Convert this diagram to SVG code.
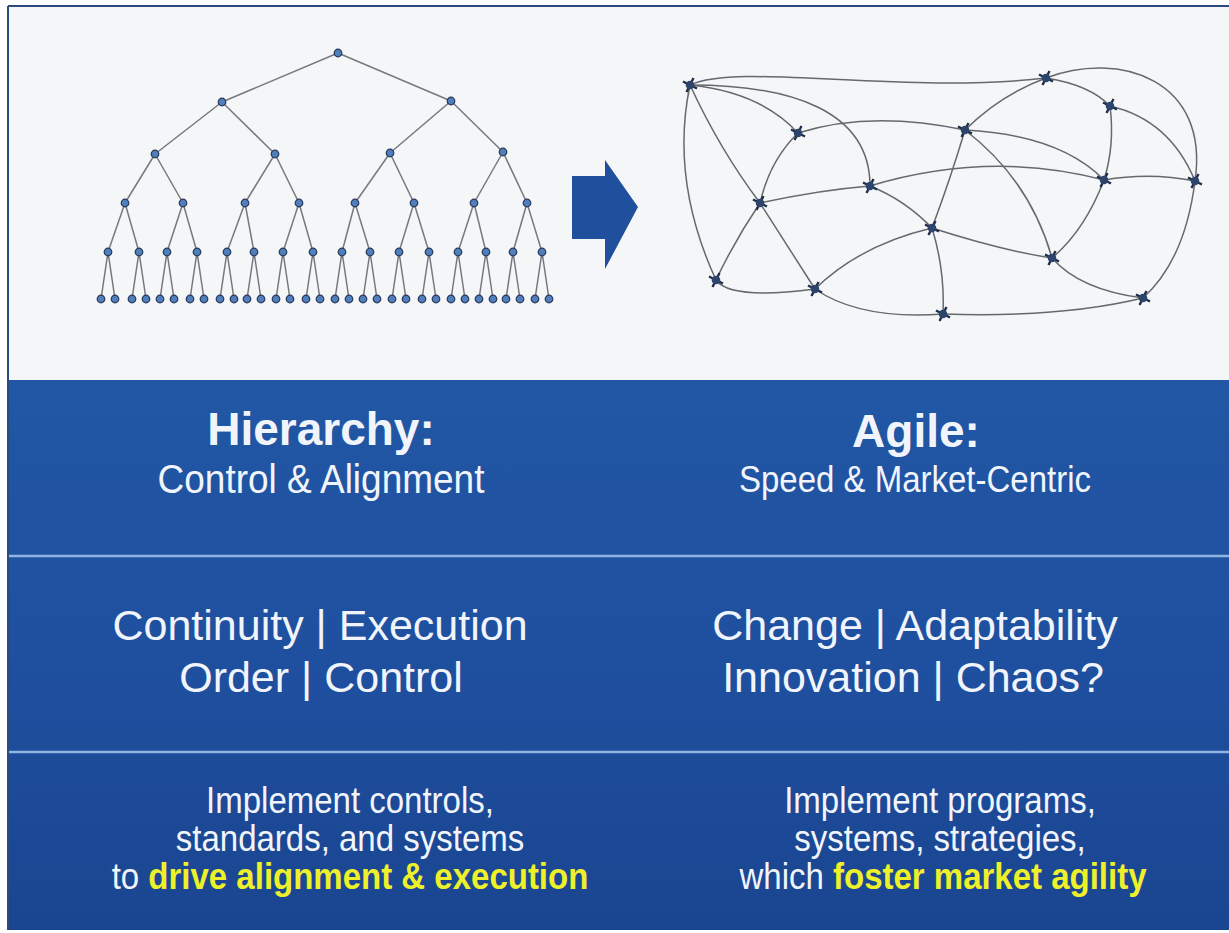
<svg xmlns="http://www.w3.org/2000/svg" xmlns:xlink="http://www.w3.org/1999/xlink" width="1229" height="933" viewBox="0 0 1229 933">
<defs>
<style>
.tedge{stroke:#75797f;stroke-width:1.5;fill:none}
.nedge{stroke:#65696e;stroke-width:1.5;fill:none}
.w{fill:#f1f5fb;font-family:"Liberation Sans",Arial,Helvetica,sans-serif;text-anchor:middle}
.b{font-weight:bold}
.y{fill:#eef02a;font-weight:bold}
.div{stroke:#8fb5e3;stroke-width:2.5}
</style>
<linearGradient id="panelGrad" x1="0" y1="0" x2="0" y2="1">
<stop offset="0" stop-color="#2157a4"/>
<stop offset="0.5" stop-color="#1f50a0"/>
<stop offset="1" stop-color="#1a4590"/>
</linearGradient>
<g id="tn"><circle r="3.8" fill="#4f7fbd" stroke="#28395a" stroke-width="1.2"/></g>
<g id="nn"><path d="M-7,-3.5 L7,3.5 M-3.5,7 L3.5,-7" stroke="#1f2e4a" stroke-width="2.4"/><circle r="4.3" fill="#2d446d"/></g>
</defs>

<rect x="0" y="0" width="1229" height="933" fill="#ffffff"/>
<rect x="8" y="6" width="1221" height="374" fill="#f5f6f8"/>
<line x1="8" y1="6" x2="1229" y2="6" stroke="#2b4a7d" stroke-width="2"/>
<line x1="8" y1="6" x2="8" y2="930" stroke="#2b4a7d" stroke-width="2"/>

<g id="panel">
<rect x="9" y="380" width="1220" height="550" fill="url(#panelGrad)"/>
<line class="div" x1="9" y1="556" x2="1229" y2="556"/>
<line class="div" x1="9" y1="752" x2="1229" y2="752"/>
</g>

<g id="arrow">
<polygon points="572,176 605,176 605,160 638,207 605,269 605,239 572,239" fill="#1f4f9d"/>
</g>

<g id="hierarchy-tree">
<g id="tree-connectors">
<line class="tedge" x1="338" y1="53" x2="222" y2="102"/>
<line class="tedge" x1="338" y1="53" x2="451" y2="101"/>
<line class="tedge" x1="222" y1="102" x2="155" y2="154"/>
<line class="tedge" x1="222" y1="102" x2="275" y2="154"/>
<line class="tedge" x1="451" y1="101" x2="390" y2="153"/>
<line class="tedge" x1="451" y1="101" x2="503" y2="152"/>
<line class="tedge" x1="155" y1="154" x2="125" y2="203"/>
<line class="tedge" x1="155" y1="154" x2="183" y2="203"/>
<line class="tedge" x1="275" y1="154" x2="245" y2="203"/>
<line class="tedge" x1="275" y1="154" x2="299" y2="203"/>
<line class="tedge" x1="390" y1="153" x2="355" y2="203"/>
<line class="tedge" x1="390" y1="153" x2="414" y2="203"/>
<line class="tedge" x1="503" y1="152" x2="474" y2="203"/>
<line class="tedge" x1="503" y1="152" x2="527" y2="203"/>
<line class="tedge" x1="125" y1="203" x2="108" y2="252"/>
<line class="tedge" x1="125" y1="203" x2="139" y2="252"/>
<line class="tedge" x1="183" y1="203" x2="167" y2="252"/>
<line class="tedge" x1="183" y1="203" x2="197" y2="252"/>
<line class="tedge" x1="245" y1="203" x2="227" y2="252"/>
<line class="tedge" x1="245" y1="203" x2="254" y2="252"/>
<line class="tedge" x1="299" y1="203" x2="283" y2="252"/>
<line class="tedge" x1="299" y1="203" x2="313" y2="252"/>
<line class="tedge" x1="355" y1="203" x2="342" y2="252"/>
<line class="tedge" x1="355" y1="203" x2="370" y2="252"/>
<line class="tedge" x1="414" y1="203" x2="399" y2="252"/>
<line class="tedge" x1="414" y1="203" x2="429" y2="252"/>
<line class="tedge" x1="474" y1="203" x2="458" y2="252"/>
<line class="tedge" x1="474" y1="203" x2="486" y2="252"/>
<line class="tedge" x1="527" y1="203" x2="513" y2="252"/>
<line class="tedge" x1="527" y1="203" x2="542" y2="252"/>
<path class="tedge" d="M108,252 L101,299 M108,252 L115,299 M139,252 L132,299 M139,252 L146,299 M167,252 L160,299 M167,252 L174,299 M197,252 L190,299 M197,252 L204,299 M227,252 L220,299 M227,252 L234,299 M254,252 L247,299 M254,252 L261,299 M283,252 L276,299 M283,252 L290,299 M313,252 L306,299 M313,252 L320,299 M342,252 L335,299 M342,252 L349,299 M370,252 L363,299 M370,252 L377,299 M399,252 L392,299 M399,252 L406,299 M429,252 L422,299 M429,252 L436,299 M458,252 L451,299 M458,252 L465,299 M486,252 L479,299 M486,252 L493,299 M513,252 L506,299 M513,252 L520,299 M542,252 L535,299 M542,252 L549,299"/>
</g>
<g id="tree-nodes">
<use href="#tn" x="338" y="53"/>
<use href="#tn" x="222" y="102"/><use href="#tn" x="451" y="101"/>
<use href="#tn" x="155" y="154"/><use href="#tn" x="275" y="154"/><use href="#tn" x="390" y="153"/><use href="#tn" x="503" y="152"/>
<use href="#tn" x="125" y="203"/><use href="#tn" x="183" y="203"/><use href="#tn" x="245" y="203"/><use href="#tn" x="299" y="203"/>
<use href="#tn" x="355" y="203"/><use href="#tn" x="414" y="203"/><use href="#tn" x="474" y="203"/><use href="#tn" x="527" y="203"/>
<use href="#tn" x="108" y="252"/><use href="#tn" x="139" y="252"/><use href="#tn" x="167" y="252"/><use href="#tn" x="197" y="252"/>
<use href="#tn" x="227" y="252"/><use href="#tn" x="254" y="252"/><use href="#tn" x="283" y="252"/><use href="#tn" x="313" y="252"/>
<use href="#tn" x="342" y="252"/><use href="#tn" x="370" y="252"/><use href="#tn" x="399" y="252"/><use href="#tn" x="429" y="252"/>
<use href="#tn" x="458" y="252"/><use href="#tn" x="486" y="252"/><use href="#tn" x="513" y="252"/><use href="#tn" x="542" y="252"/>
<use href="#tn" x="101" y="299"/><use href="#tn" x="115" y="299"/><use href="#tn" x="132" y="299"/><use href="#tn" x="146" y="299"/>
<use href="#tn" x="160" y="299"/><use href="#tn" x="174" y="299"/><use href="#tn" x="190" y="299"/><use href="#tn" x="204" y="299"/>
<use href="#tn" x="220" y="299"/><use href="#tn" x="234" y="299"/><use href="#tn" x="247" y="299"/><use href="#tn" x="261" y="299"/>
<use href="#tn" x="276" y="299"/><use href="#tn" x="290" y="299"/><use href="#tn" x="306" y="299"/><use href="#tn" x="320" y="299"/>
<use href="#tn" x="335" y="299"/><use href="#tn" x="349" y="299"/><use href="#tn" x="363" y="299"/><use href="#tn" x="377" y="299"/>
<use href="#tn" x="392" y="299"/><use href="#tn" x="406" y="299"/><use href="#tn" x="422" y="299"/><use href="#tn" x="436" y="299"/>
<use href="#tn" x="451" y="299"/><use href="#tn" x="465" y="299"/><use href="#tn" x="479" y="299"/><use href="#tn" x="493" y="299"/>
<use href="#tn" x="506" y="299"/><use href="#tn" x="520" y="299"/><use href="#tn" x="535" y="299"/><use href="#tn" x="549" y="299"/>
</g>
</g>

<g id="agile-network">
<g id="network-connectors">
<path class="nedge" d="M690,85 C740,62 900,95 1046,78"/>
<path class="nedge" d="M690,85 Q760,92 798,133"/>
<path class="nedge" d="M690,85 C790,85 870,110 870,186"/>
<path class="nedge" d="M690,85 Q720,150 760,203"/>
<path class="nedge" d="M690,85 Q670,180 716,280"/>
<path class="nedge" d="M1046,78 Q1000,95 965,130"/>
<path class="nedge" d="M1046,78 Q1090,85 1110,106"/>
<path class="nedge" d="M1046,78 C1120,50 1210,80 1195,181"/>
<path class="nedge" d="M1110,106 Q1170,120 1195,181"/>
<path class="nedge" d="M1110,106 Q1115,145 1104,180"/>
<path class="nedge" d="M798,133 Q870,110 965,130"/>
<path class="nedge" d="M965,130 Q1060,135 1104,180"/>
<path class="nedge" d="M965,130 Q950,180 932,228"/>
<path class="nedge" d="M965,130 Q1030,180 1052,258"/>
<path class="nedge" d="M870,186 Q990,150 1104,180"/>
<path class="nedge" d="M760,203 Q820,190 870,186"/>
<path class="nedge" d="M870,186 Q905,200 932,228"/>
<path class="nedge" d="M798,133 Q770,160 760,203"/>
<path class="nedge" d="M1104,180 Q1150,172 1195,181"/>
<path class="nedge" d="M1104,180 Q1085,230 1052,258"/>
<path class="nedge" d="M1195,181 Q1185,260 1143,298"/>
<path class="nedge" d="M760,203 Q735,240 716,280"/>
<path class="nedge" d="M760,203 Q790,250 815,289"/>
<path class="nedge" d="M716,280 Q730,300 815,289"/>
<path class="nedge" d="M815,289 Q860,245 932,228"/>
<path class="nedge" d="M932,228 Q945,270 943,314"/>
<path class="nedge" d="M932,228 Q1000,250 1052,258"/>
<path class="nedge" d="M1052,258 Q1080,290 1143,298"/>
<path class="nedge" d="M815,289 Q860,320 943,314"/>
<path class="nedge" d="M943,314 Q1060,318 1143,298"/>
</g>
<g id="network-nodes">
<use href="#nn" x="690" y="85"/><use href="#nn" x="1046" y="78"/><use href="#nn" x="1110" y="106"/>
<use href="#nn" x="1195" y="181"/><use href="#nn" x="965" y="130"/><use href="#nn" x="798" y="133"/>
<use href="#nn" x="870" y="186"/><use href="#nn" x="760" y="203"/><use href="#nn" x="932" y="228"/>
<use href="#nn" x="1104" y="180"/><use href="#nn" x="1052" y="258"/><use href="#nn" x="716" y="280"/>
<use href="#nn" x="815" y="289"/><use href="#nn" x="943" y="314"/><use href="#nn" x="1143" y="298"/>
</g>
</g>

<g id="hierarchy-title">
<text class="w b" x="321" y="445" font-size="46">Hierarchy:</text>
<text class="w" transform="translate(321,493) scale(1,1.08)" x="0" y="0" font-size="37">Control &amp; Alignment</text>
</g>
<g id="agile-title">
<text class="w b" x="916" y="447" font-size="46">Agile:</text>
<text class="w" transform="translate(915,492) scale(1,1.1)" x="0" y="0" font-size="33">Speed &amp; Market-Centric</text>
</g>
<g id="hierarchy-traits">
<text class="w" x="320" y="640" font-size="43">Continuity | Execution</text>
<text class="w" x="321" y="692" font-size="43">Order | Control</text>
</g>
<g id="agile-traits">
<text class="w" x="915" y="640" font-size="43">Change | Adaptability</text>
<text class="w" x="913" y="692" font-size="43">Innovation | Chaos?</text>
</g>
<g id="hierarchy-action">
<text class="w" transform="translate(350,813) scale(1,1.13)" x="0" y="0" font-size="33">Implement controls,</text>
<text class="w" transform="translate(350,851) scale(1,1.13)" x="0" y="0" font-size="33">standards, and systems</text>
<text class="w" transform="translate(350,889) scale(1,1.13)" x="0" y="0" font-size="33">to <tspan class="y">drive alignment &amp; execution</tspan></text>
</g>
<g id="agile-action">
<text class="w" transform="translate(940,813) scale(1,1.13)" x="0" y="0" font-size="33">Implement programs,</text>
<text class="w" transform="translate(940,851) scale(1,1.13)" x="0" y="0" font-size="33">systems, strategies,</text>
<text class="w" transform="translate(943,889) scale(1,1.13)" x="0" y="0" font-size="33">which <tspan class="y">foster market agility</tspan></text>
</g>
</svg>
